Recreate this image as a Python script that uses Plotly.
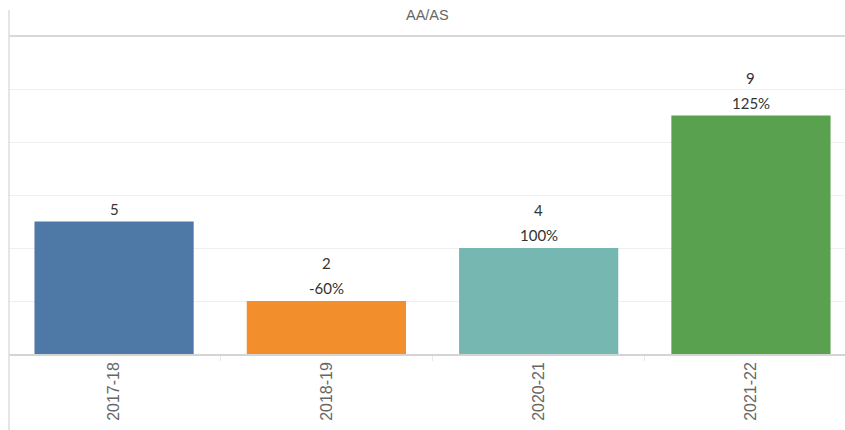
import plotly.graph_objects as go

categories = ["2017-18", "2018-19", "2020-21", "2021-22"]
values = [5, 2, 4, 9]
pct_labels = ["", "-60%", "100%", "125%"]
colors = ["#4E79A7", "#F28E2B", "#76B7B2", "#59A14F"]

fig = go.Figure()
fig.add_trace(go.Bar(
    x=categories, y=values, marker=dict(color=colors, line=dict(width=0)),
    width=0.75, hoverinfo="skip"))

label_font = dict(family="Lato, Open Sans, sans-serif", size=15, color="#333333")
for c, v, p in zip(categories, values, pct_labels):
    if p:
        fig.add_annotation(x=c, y=v, text=p, showarrow=False, yanchor="middle",
                           yshift=13, font=label_font)
        fig.add_annotation(x=c, y=v, text=str(v), showarrow=False, yanchor="middle",
                           yshift=38, font=label_font)
    else:
        fig.add_annotation(x=c, y=v, text=str(v), showarrow=False, yanchor="middle",
                           yshift=13, font=label_font)

fig.add_annotation(xref="paper", yref="paper", x=0.5, y=1, yshift=21, text="AA/AS",
                   showarrow=False, yanchor="middle",
                   font=dict(family="Liberation Sans, Arial, sans-serif", size=14.5, color="#666666"))

# header separator and left border
fig.add_shape(type="line", xref="paper", yref="paper", x0=0, x1=1, y0=1, y1=1,
              line=dict(color="#d9d9d9", width=2), layer="above")
fig.add_shape(type="line", xref="paper", yref="paper", x0=0, x1=0, y0=-0.3, y1=1.082,
              line=dict(color="#dcdcdc", width=1.5), layer="above")

fig.update_layout(
    width=845, height=430,
    margin=dict(l=9, r=0, t=36, b=76),
    paper_bgcolor="white", plot_bgcolor="white",
    showlegend=False, bargap=0.25,
    xaxis=dict(range=[-0.495, 3.443], tickangle=-90, showgrid=False,
               ticks="outside", tickson="boundaries", ticklen=5, tickcolor="#e8e8e8",
               showline=True, linecolor="#d4d4d4", linewidth=1.5,
               tickfont=dict(family="Liberation Sans, Arial, sans-serif", size=16, color="#666666")),
    yaxis=dict(range=[0, 12], dtick=2, showticklabels=False, showgrid=True,
               gridcolor="#efefef", gridwidth=1, zeroline=False, ticks=""),
)

fig.write_html("out.html", config={"displayModeBar": False},
               post_script="document.body.style.margin='0';document.documentElement.style.overflow='hidden';document.body.style.overflow='hidden';")
